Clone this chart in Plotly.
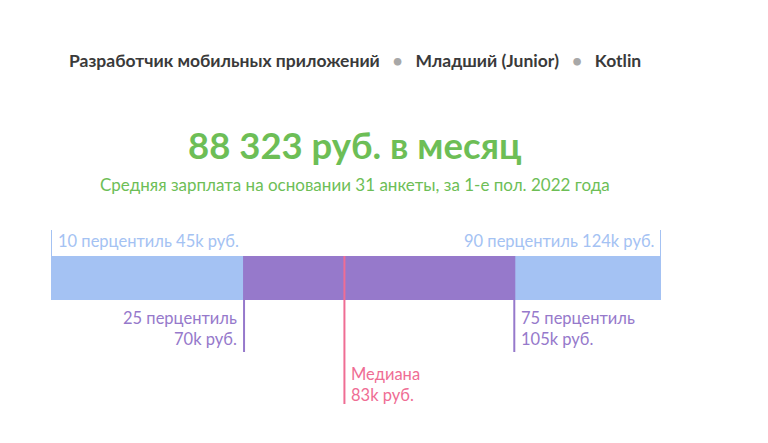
import plotly.graph_objects as go

# Data
percentile_names = ["10 перцентиль", "25 перцентиль", "Медиана", "75 перцентиль", "90 перцентиль"]
percentile_values = [45, 70, 83, 105, 124]  # thousands of rubles
mean_salary = "88 323"
respondents = 31
period = "1-е пол. 2022 года"
title_parts = ["Разработчик мобильных приложений", "Младший (Junior)", "Kotlin"]

p10, p25, p50, p75, p90 = percentile_values

C_LIGHT = "#A4C2F3"
C_PURPLE = "#9679CB"
C_PINK = "#EF6D94"
C_GREEN = "#6DBE56"
C_DARK = "#3A3A3A"
FONT = "Lato"

BAR_Y = 278
BAR_H = 44
bar_top = BAR_Y - BAR_H / 2
bar_bot = BAR_Y + BAR_H / 2

fig = go.Figure()
fig.add_trace(go.Bar(y=[BAR_Y], x=[p25 - p10], base=[p10], orientation="h",
                     marker=dict(color=C_LIGHT, line=dict(width=0)), width=BAR_H, hoverinfo="skip"))
fig.add_trace(go.Bar(y=[BAR_Y], x=[p75 - p25], base=[p25], orientation="h",
                     marker=dict(color=C_PURPLE, line=dict(width=0)), width=BAR_H, hoverinfo="skip"))
fig.add_trace(go.Bar(y=[BAR_Y], x=[p90 - p75], base=[p75], orientation="h",
                     marker=dict(color=C_LIGHT, line=dict(width=0)), width=BAR_H, hoverinfo="skip"))

shapes = []
def vline(x, y0, y1, color, w=2):
    shapes.append(dict(type="line", xref="x", yref="y", x0=x, x1=x, y0=y0, y1=y1,
                       line=dict(color=color, width=w)))

vline(p10, 230, bar_bot, C_LIGHT)
vline(p90, 230, bar_bot, C_LIGHT)
vline(p25, bar_top, 352, C_PURPLE)
vline(p75, bar_top, 352, C_PURPLE)
vline(p50, bar_top, 404, C_PINK)

ann = []
def label(x, y, text, color, anchor, size=16.5, xshift=0, align=None):
    a = dict(x=x, y=y, xref="x", yref="y", text=text, showarrow=False,
             xanchor=anchor, yanchor="middle", xshift=xshift,
             font=dict(family=FONT, size=size, color=color))
    if align:
        a["align"] = align
    ann.append(a)

label(p10, 241, f"{percentile_names[0]} {p10}k руб.", C_LIGHT, "left", xshift=5)
label(p90, 241, f"{percentile_names[4]} {p90}k руб.", C_LIGHT, "right", xshift=-5)
label(p25, 328, f"{percentile_names[1]}<br>{p25}k руб.", C_PURPLE, "right", xshift=-5, align="right")
label(p75, 328, f"{percentile_names[3]}<br>{p75}k руб.", C_PURPLE, "left", xshift=5, align="left")
label(p50, 384, f"{percentile_names[2]}<br>{p50}k руб.", C_PINK, "left", xshift=5, align="left")

dot = "&nbsp;&nbsp;&nbsp;<span style='color:#A8A8A8'>•</span>&nbsp;&nbsp;&nbsp;"
CX = 0.4984
ann.append(dict(x=CX, y=60, xref="paper", yref="y",
                text="<b>" + dot.join(title_parts) + "</b>", showarrow=False,
                xanchor="center", yanchor="middle",
                font=dict(family=FONT, size=17.5, color=C_DARK)))
ann.append(dict(x=CX, y=145, xref="paper", yref="y",
                text=f"<b>{mean_salary} руб. в месяц</b>", showarrow=False,
                xanchor="center", yanchor="middle",
                font=dict(family=FONT, size=36.5, color=C_GREEN)))
ann.append(dict(x=CX, y=184, xref="paper", yref="y",
                text=f"Средняя зарплата на основании {respondents} анкеты, за {period}", showarrow=False,
                xanchor="center", yanchor="middle",
                font=dict(family=FONT, size=17, color=C_GREEN)))

# The page adds an 8px body margin; compensate so values map to screen pixels.
fig.update_layout(
    width=768, height=443,
    margin=dict(l=43, r=115, t=0, b=0),
    paper_bgcolor="white", plot_bgcolor="white",
    showlegend=False, barmode="overlay",
    xaxis=dict(range=[p10, p90], visible=False, fixedrange=True),
    yaxis=dict(range=[451, 8], visible=False, fixedrange=True),
    shapes=shapes, annotations=ann,
)
fig.write_html("out.html")
